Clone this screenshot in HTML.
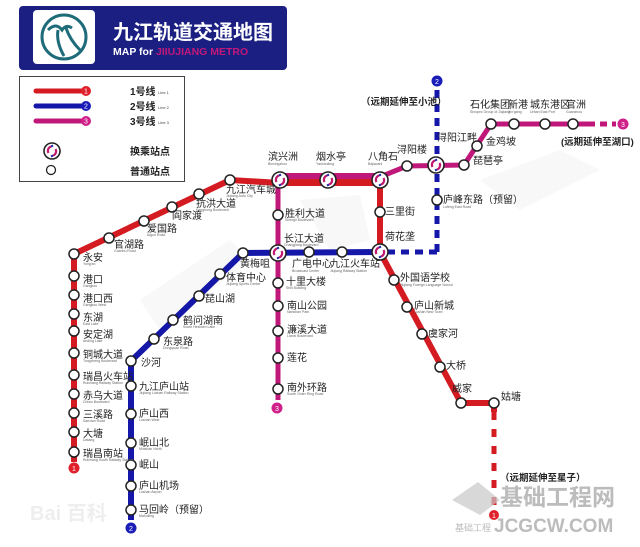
<!DOCTYPE html>
<html><head><meta charset="utf-8"><style>
html,body{margin:0;padding:0;background:#fff;}
svg{display:block;}
text{font-family:"Liberation Sans","Noto Sans CJK SC",sans-serif;}
.c{font-size:10px;fill:#222;}
.e{font-size:3.5px;fill:#666;}
</style></head><body>
<svg width="640" height="547" viewBox="0 0 640 547" xmlns="http://www.w3.org/2000/svg">
<defs>
<g id="x"><circle r="8" fill="#fff" stroke="#222" stroke-width="1.6"/><path d="M-1,-4.5 A4.5,4.5 0 0 0 -3.5,2 M1,4.5 A4.5,4.5 0 0 0 3.5,-2" stroke="#c0186f" stroke-width="2.2" fill="none"/><path d="M-1,-4.5 L1,-5.5 M1,4.5 L-1,5.5" stroke="#1a1da0" stroke-width="2"/></g>
<circle id="s" r="5" fill="#fff" stroke="#222" stroke-width="1.5"/>
</defs>
<g fill="#f3f3f3" opacity="0.6">
<path d="M300,200 L360,195 L370,240 L330,250 Z"/>
<path d="M140,300 L230,240 L250,260 L160,330 Z"/>
<path d="M480,180 L560,150 L600,170 L520,210 Z"/>
</g>
<rect x="19" y="6" width="268" height="64" rx="4" fill="#1b1f82"/>
<rect x="33" y="10" width="62" height="54" rx="4" fill="#fff"/>
<circle cx="64" cy="37" r="22" fill="none" stroke="#1e6b7a" stroke-width="3"/>
<path d="M48,30 Q56,22 62,30 Q66,24 72,28 M58,30 Q56,42 64,56 M66,28 Q70,40 80,50" stroke="#1e6b7a" stroke-width="3" fill="none"/>
<text x="113" y="39" font-size="20" font-weight="bold" fill="#fff">九江轨道交通地图</text>
<text x="113" y="55" font-size="10.5" font-weight="bold" fill="#fff">MAP for <tspan fill="#c2187a">JIIUJIANG METRO</tspan></text>
<rect x="19.5" y="76.5" width="165" height="105" fill="#fff" stroke="#444" stroke-width="1"/>
<line x1="36" y1="91" x2="84" y2="91" stroke="#d51b22" stroke-width="5" stroke-linecap="round"/><circle cx="86" cy="91" r="5" fill="#e0202a"/><text x="86" y="93.5" font-size="7" fill="#fff" text-anchor="middle">1</text>
<line x1="36" y1="106" x2="84" y2="106" stroke="#1417a8" stroke-width="5" stroke-linecap="round"/><circle cx="86" cy="106" r="5" fill="#1a1db8"/><text x="86" y="108.5" font-size="7" fill="#fff" text-anchor="middle">2</text>
<line x1="36" y1="121" x2="84" y2="121" stroke="#c0187a" stroke-width="5" stroke-linecap="round"/><circle cx="86" cy="121" r="5" fill="#d0208a"/><text x="86" y="123.5" font-size="7" fill="#fff" text-anchor="middle">3</text>
<text x="130" y="95" font-size="10" font-weight="bold" fill="#222">1号线</text><text x="158" y="94" font-size="4" fill="#444">Line 1</text>
<text x="130" y="110" font-size="10" font-weight="bold" fill="#222">2号线</text><text x="158" y="109" font-size="4" fill="#444">Line 2</text>
<text x="130" y="125" font-size="10" font-weight="bold" fill="#222">3号线</text><text x="158" y="124" font-size="4" fill="#444">Line 3</text>
<use href="#x" x="52" y="151"/>
<circle cx="51" cy="170" r="4.5" fill="#fff" stroke="#222" stroke-width="1.3"/>
<text x="130" y="155" font-size="10" font-weight="bold" fill="#222">换乘站点</text>
<text x="130" y="175" font-size="10" font-weight="bold" fill="#222">普通站点</text>

<g stroke="#1417a8" stroke-width="5" stroke-dasharray="8,6" fill="none">
<line x1="437" y1="90" x2="437" y2="252"/>
<line x1="437" y1="252" x2="386" y2="252"/>
</g>
<line x1="588" y1="124" x2="616" y2="124" stroke="#c0187a" stroke-width="5" stroke-dasharray="7,5"/>
<line x1="494" y1="412" x2="494" y2="510" stroke="#d51b22" stroke-width="5" stroke-dasharray="8,9"/>

<polyline points="74,462 74,254 230,180 280,183 380,183 380,252 461,403 494,403 494,412" fill="none" stroke="#d51b22" stroke-width="6" stroke-linejoin="round"/>
<polyline points="278,400 278,185 280,177 380,177 407,166 464,165 491,124 588,124" fill="none" stroke="#c0187a" stroke-width="5" stroke-linejoin="round"/>
<rect x="285" y="173" width="90" height="6" fill="#c0187a"/>
<rect x="285" y="179" width="90" height="7" fill="#d51b22"/>
<polyline points="380,252 243,253 131,361 131,520" fill="none" stroke="#1417a8" stroke-width="6" stroke-linejoin="round"/>

<circle cx="74" cy="468" r="5.5" fill="#e0202a"/><text x="74" y="471" font-size="7" fill="#fff" text-anchor="middle">1</text>
<circle cx="131" cy="528" r="5.5" fill="#1a1db8"/><text x="131" y="531" font-size="7" fill="#fff" text-anchor="middle">2</text>
<circle cx="437" cy="81" r="5.5" fill="#1a1db8"/><text x="437" y="84" font-size="7" fill="#fff" text-anchor="middle">2</text>
<circle cx="277" cy="408" r="5.5" fill="#d0208a"/><text x="277" y="411" font-size="7" fill="#fff" text-anchor="middle">3</text>
<circle cx="623" cy="124" r="5.5" fill="#d0208a"/><text x="623" y="127" font-size="7" fill="#fff" text-anchor="middle">3</text>
<circle cx="494" cy="515" r="5" fill="#e0202a"/><text x="494" y="518" font-size="7" fill="#fff" text-anchor="middle">1</text>

<g>
<use href="#s" x="74" y="254"/><use href="#s" x="74" y="276"/><use href="#s" x="74" y="295"/><use href="#s" x="74" y="314"/><use href="#s" x="74" y="331"/><use href="#s" x="74" y="353"/><use href="#s" x="74" y="375"/><use href="#s" x="74" y="394"/><use href="#s" x="74" y="413"/><use href="#s" x="74" y="432"/><use href="#s" x="74" y="452"/>
<use href="#s" x="109" y="238"/><use href="#s" x="144" y="221"/><use href="#s" x="172" y="207"/><use href="#s" x="199" y="194"/><use href="#s" x="230" y="180"/>
<use href="#s" x="380" y="212"/>
<use href="#s" x="394" y="280"/><use href="#s" x="407" y="307"/><use href="#s" x="422" y="334"/><use href="#s" x="440" y="367"/><use href="#s" x="461" y="403"/><use href="#s" x="494" y="403"/>
<use href="#s" x="278" y="389"/><use href="#s" x="278" y="358"/><use href="#s" x="278" y="331"/><use href="#s" x="278" y="306"/><use href="#s" x="278" y="283"/><use href="#s" x="278" y="215"/>
<use href="#s" x="407" y="166"/><use href="#s" x="464" y="165"/><use href="#s" x="477" y="146"/><use href="#s" x="491" y="124"/><use href="#s" x="514" y="124"/><use href="#s" x="545" y="124"/><use href="#s" x="573" y="124"/>
<use href="#s" x="437" y="200"/><use href="#s" x="342" y="252"/><use href="#s" x="309" y="252"/><use href="#s" x="243" y="253"/>
<use href="#s" x="220" y="274"/><use href="#s" x="199" y="296"/><use href="#s" x="173" y="320"/><use href="#s" x="154" y="339"/><use href="#s" x="131" y="361"/>
<use href="#s" x="131" y="386"/><use href="#s" x="131" y="414"/><use href="#s" x="131" y="443"/><use href="#s" x="131" y="465"/><use href="#s" x="131" y="486"/><use href="#s" x="131" y="510"/>
<use href="#x" x="280" y="180"/><use href="#x" x="328" y="180"/><use href="#x" x="380" y="180"/><use href="#x" x="436" y="165"/><use href="#x" x="278" y="253"/><use href="#x" x="380" y="252"/>
</g>

<g class="c">
<text x="83" y="261">永安</text><text x="83" y="283">港口</text><text x="83" y="302">港口西</text><text x="83" y="321">东湖</text><text x="83" y="338">安定湖</text><text x="83" y="358">铜城大道</text><text x="83" y="380">瑞昌火车站</text><text x="83" y="399">赤乌大道</text><text x="83" y="418">三溪路</text><text x="83" y="437">大塘</text><text x="83" y="457">瑞昌南站</text>
<text x="114" y="248">官湖路</text><text x="147" y="232">爱国路</text><text x="172" y="219">阎家渡</text><text x="196" y="207">抗洪大道</text><text x="226" y="193">九江汽车城</text>
<text x="268" y="160">滨兴洲</text><text x="316" y="160">烟水亭</text><text x="368" y="160">八角石</text><text x="397" y="153">浔阳楼</text>
<text x="385" y="215">三里街</text><text x="385" y="240">荷花垄</text>
<text x="400" y="281">外国语学校</text><text x="414" y="309">庐山新城</text><text x="428" y="337">虞家河</text><text x="446" y="369">大桥</text><text x="452" y="392">威家</text><text x="501" y="400">姑塘</text>
<text x="285" y="217">胜利大道</text><text x="284" y="242">长江大道</text><text x="286" y="285">十里大楼</text><text x="287" y="309">南山公园</text><text x="287" y="333">濂溪大道</text><text x="287" y="361">莲花</text><text x="287" y="391">南外环路</text>
<text x="437" y="141">浔阳江畔</text><text x="486" y="145">金鸡坡</text><text x="473" y="164">琵琶亭</text>
<text x="470" y="108">石化集团</text><text x="508" y="108">新港</text><text x="530" y="108">城东港区</text><text x="566" y="108">官洲</text>
<text x="443" y="203">庐峰东路（预留）</text>
<text x="292" y="267">广电中心</text><text x="330" y="267">九江火车站</text><text x="240" y="267">黄梅咀</text>
<text x="226" y="281">体育中心</text><text x="205" y="302">琵山湖</text><text x="183" y="324">鹤问湖南</text><text x="163" y="345">东泉路</text><text x="141" y="366">沙河</text>
<text x="139" y="390">九江庐山站</text><text x="139" y="417">庐山西</text><text x="139" y="446">岷山北</text><text x="139" y="468">岷山</text><text x="139" y="489">庐山机场</text><text x="139" y="513">马回岭（预留）</text>
</g>
<g class="e">
<text x="83" y="265">Yong'an</text><text x="83" y="287">Gangkou</text><text x="83" y="306">Gangkou West</text><text x="83" y="325">East Lake</text><text x="83" y="342">Anding Lake</text><text x="83" y="362">Tongcheng Boulevard</text><text x="83" y="384">Ruichang Railway Station</text><text x="83" y="403">Chiwu Boulevard</text><text x="83" y="422">Sanxian Road</text><text x="83" y="441">Datang</text><text x="83" y="461">Ruichang South Railway Station</text>
<text x="114" y="252">Guanhu Road</text><text x="147" y="236">Aiguo Road</text><text x="226" y="197">Jiujiang Auto City</text><text x="196" y="211">Kanghong Boulevard</text>
<text x="268" y="165">Binxingzhou</text><text x="316" y="165">Yanshuiting</text><text x="368" y="165">Bajiaoshi</text>
<text x="284" y="246">Changjiang Boulevard</text><text x="285" y="221">Shengli Boulevard</text><text x="286" y="289">Shili Building</text><text x="287" y="313">Nanshan Park</text><text x="287" y="337">Lianxi Boulevard</text><text x="287" y="395">South Outer Ring Road</text>
<text x="292" y="272">Broadcast Center</text><text x="330" y="272">Jiujiang Railway Station</text><text x="226" y="285">Jiujiang Sports Center</text><text x="183" y="328">South Hexiwen Lake</text><text x="163" y="349">Dongquan Road</text>
<text x="400" y="286">Jiujiang Foreign Language School</text><text x="414" y="313">Lushan New Town</text><text x="443" y="208">Lufeng East Road</text>
<text x="470" y="113">Sinopec Group of Jiujiang</text><text x="508" y="113">Xin'gang</text><text x="530" y="113">Urban East Port</text><text x="566" y="113">Guanzhou</text>
<text x="139" y="394">Jiujiang Lushan Railway Station</text><text x="139" y="421">Lushan West</text><text x="139" y="450">Minshan North</text><text x="139" y="493">Lushan Airport</text><text x="139" y="517">Mahuiling</text>
</g>
<text x="361" y="105" font-size="9.5" font-weight="bold" fill="#222">（远期延伸至小池）</text>
<text x="561" y="145" font-size="9.5" font-weight="bold" fill="#222">(远期延伸至湖口)</text>
<text x="500" y="481" font-size="9.5" font-weight="bold" fill="#222">（远期延伸至星子）</text>
<text x="30" y="520" font-size="20" fill="#eeeeee" font-weight="bold">Bai 百科</text>
<path d="M452,500 L478,482 L500,500 L480,515 Z" fill="#c8c8c8" opacity="0.7"/>
<text x="500" y="505" font-size="23" fill="#bcbcbc" font-weight="bold">基础工程网</text>
<text x="455" y="531" font-size="9" fill="#bbb">基础工程</text>
<text x="494" y="532" font-size="19" fill="#bcbcbc" font-weight="bold">JCGCW.COM</text>
</svg>
</body></html>
